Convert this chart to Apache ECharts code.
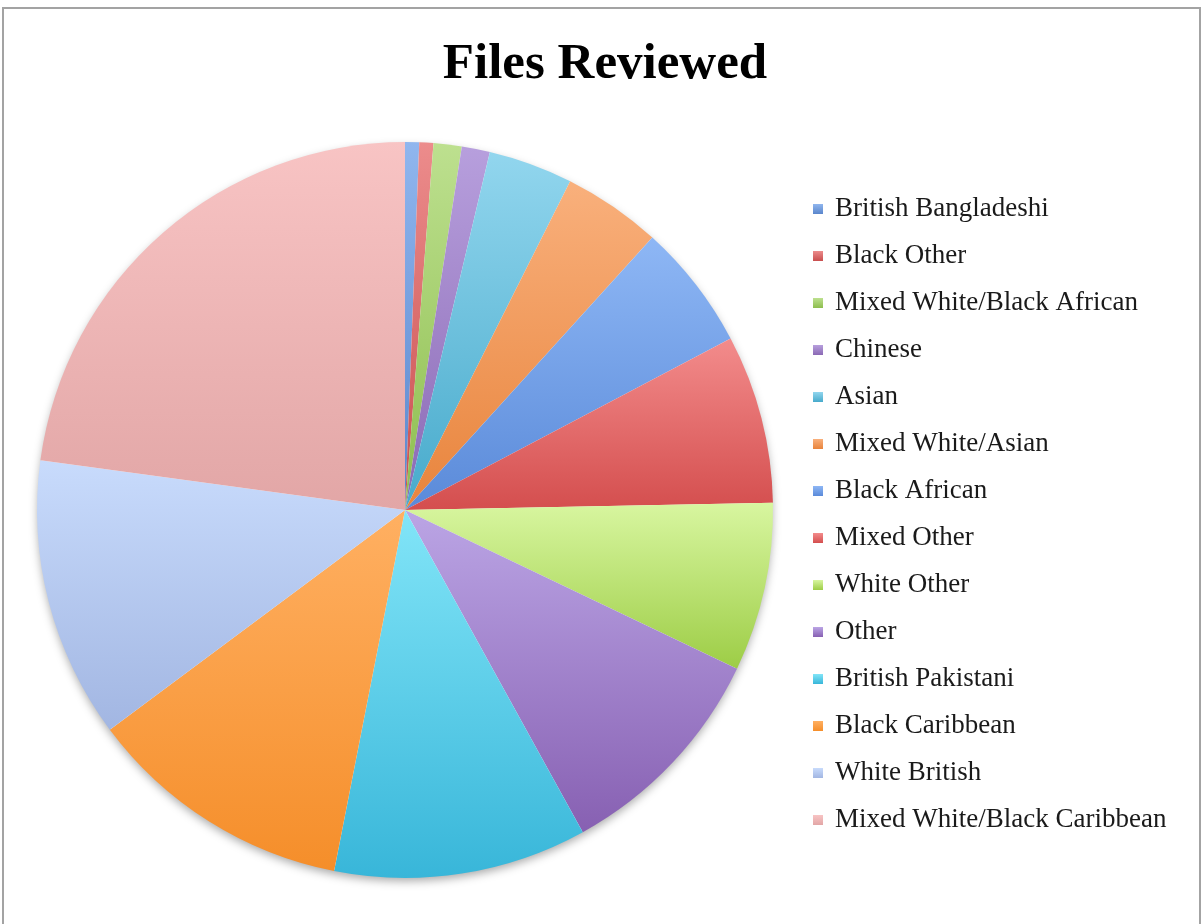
<!DOCTYPE html>
<html>
<head>
<meta charset="utf-8">
<title>Files Reviewed</title>
<script src="https://cdn.jsdelivr.net/npm/echarts@6/dist/echarts.min.js"></script>
<style>
  html, body { margin: 0; padding: 0; background: #ffffff; }
  #chart { width: 1203px; height: 924px; }
</style>
</head>
<body>
<div id="chart"></div>
<script>
// Ethnicity breakdown of reviewed files (clockwise from 12 o'clock)
const categories = [
  'British Bangladeshi', 'Black Other', 'Mixed White/Black African', 'Chinese',
  'Asian', 'Mixed White/Asian', 'Black African', 'Mixed Other', 'White Other',
  'Other', 'British Pakistani', 'Black Caribbean', 'White British',
  'Mixed White/Black Caribbean'
];
const fileCounts = [1, 1, 2, 2, 6, 7, 9, 12, 12, 16, 18, 19, 20, 37];

// light (top) and dark (bottom) stops of each slice's gradient fill
const lightColors = [
  '#90b6ee', '#ec8c8c', '#bde08f', '#b79fdd', '#92d6ee', '#f9b07c', '#8eb7f5',
  '#f38c8c', '#d8f6a0', '#bba5e5', '#82e5f8', '#ffb062', '#c8dbfc', '#f8c4c4'
];
const darkColors = [
  '#5a86cc', '#c84e4e', '#8dbd4e', '#8a69b4', '#47aacb', '#e8843c', '#5a8ad9',
  '#d44e4e', '#9dcd46', '#8760b2', '#38b6d9', '#f58e2a', '#a2b6e2', '#e2a6a6'
];

const pieData = categories.map((name, i) => ({
  name: name,
  value: fileCounts[i],
  itemStyle: {
    color: new echarts.graphic.LinearGradient(0, 0, 0, 1, [
      { offset: 0, color: lightColors[i] },
      { offset: 1, color: darkColors[i] }
    ])
  }
}));

const chart = echarts.init(document.getElementById('chart'), null, { renderer: 'canvas' });

chart.setOption({
  backgroundColor: '#ffffff',
  animation: false,
  title: {
    text: 'Files Reviewed',
    left: 600,
    top: 34,
    textAlign: 'center',
    textStyle: {
      fontFamily: 'Liberation Serif',
      fontWeight: 'bold',
      fontSize: 51,
      color: '#000000'
    }
  },
  legend: {
    data: categories,
    orient: 'vertical',
    left: 813,
    top: 194,
    padding: 0,
    icon: 'rect',
    itemWidth: 10,
    itemHeight: 10,
    itemGap: 17,
    selectedMode: false,
    textStyle: {
      fontFamily: 'Liberation Serif',
      fontSize: 27,
      lineHeight: 30,
      color: '#1a1a1a',
      padding: [0, 0, 0, 7]
    }
  },
  graphic: [{
    type: 'rect',
    silent: true,
    shape: { x: 3, y: 8, width: 1197, height: 940 },
    style: { fill: 'none', stroke: '#a3a3a3', lineWidth: 2 }
  }],
  series: [
    {
      // soft drop shadow beneath the whole pie
      type: 'pie',
      silent: true,
      center: [405, 510],
      radius: 367,
      label: { show: false },
      labelLine: { show: false },
      data: [{
        value: 1,
        name: '',
        itemStyle: {
          color: '#ffffff',
          shadowBlur: 10,
          shadowOffsetY: 4,
          shadowColor: 'rgba(0,0,0,0.35)'
        }
      }]
    },
    {
      type: 'pie',
      center: [405, 510],
      radius: 368,
      startAngle: 90,
      clockwise: true,
      label: { show: false },
      labelLine: { show: false },
      itemStyle: { borderWidth: 0 },
      emphasis: { disabled: true },
      data: pieData
    }
  ]
});
</script>
</body>
</html>
